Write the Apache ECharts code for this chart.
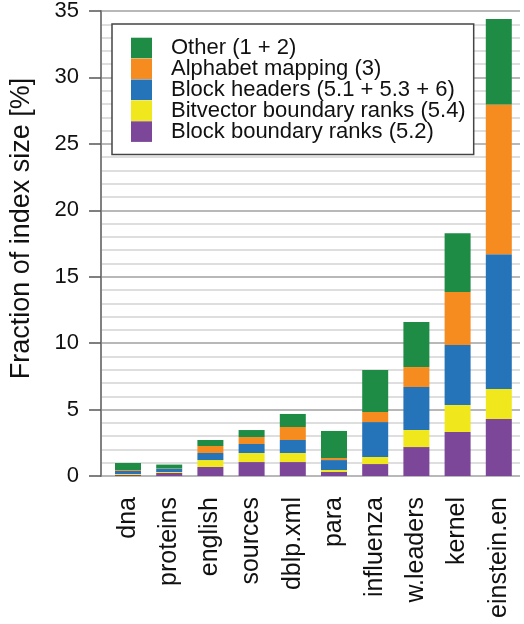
<!DOCTYPE html>
<html>
<head>
<meta charset="utf-8">
<script src="https://cdn.jsdelivr.net/npm/echarts@6/dist/echarts.min.js"></script>
<style>
  html, body { margin: 0; padding: 0; background: #fff; }
  #chart { width: 524px; height: 624px; }
</style>
</head>
<body>
<div id="chart"></div>
<script>
const categories = ['dna', 'proteins', 'english', 'sources', 'dblp.xml', 'para', 'influenza', 'w.leaders', 'kernel', 'einstein.en'];

// stacked from bottom to top
const blockBoundary = [0.08, 0.23, 0.68, 1.05, 1.05, 0.30, 0.90, 2.18, 3.31, 4.29];
const bitvector     = [0.07, 0.07, 0.52, 0.68, 0.68, 0.15, 0.53, 1.28, 2.03, 2.26];
const blockHeaders  = [0.23, 0.23, 0.53, 0.68, 0.98, 0.75, 2.63, 3.24, 4.52, 10.15];
const alphabet      = [0.07, 0.03, 0.53, 0.52, 0.98, 0.15, 0.76, 1.50, 3.99, 11.27];
const other         = [0.53, 0.30, 0.45, 0.53, 0.98, 2.04, 3.16, 3.39, 4.43, 6.42];

const yTicks = [0, 5, 10, 15, 20, 25, 30, 35];

const FONT = "'Liberation Sans', Arial, sans-serif";

const chart = echarts.init(document.getElementById('chart'));

const parts = [
    { name: 'Block boundary ranks (5.2)', data: blockBoundary, color: '#7c4699' },
    { name: 'Bitvector boundary ranks (5.4)', data: bitvector, color: '#f0e81c' },
    { name: 'Block headers (5.1 + 5.3 + 6)', data: blockHeaders, color: '#2574b9' },
    { name: 'Alphabet mapping (3)', data: alphabet, color: '#f68b1f' },
    { name: 'Other (1 + 2)', data: other, color: '#1f8c45' }
];

const series = parts.map(p => ({
    name: p.name,
    type: 'bar',
    stack: 'size',
    xAxisIndex: 1,
    yAxisIndex: 1,
    barWidth: 26,
    data: p.data,
    itemStyle: { color: p.color },
    emphasis: { disabled: true }
}));

const option = {
    animation: false,
    textStyle: { fontFamily: FONT },
    grid: [
        // background grid: y axis + gridlines
        { left: 100, right: 4, top: 11, bottom: 148 },
        // bar grid, shifted a bit right of the axis line
        { left: 107.4, right: 4.6, top: 11, bottom: 148 }
    ],
    legend: {
        data: parts.map(p => p.name).reverse(),
        orient: 'vertical',
        left: 112,
        top: 24,
        padding: [13, 8, 12, 19],
        itemWidth: 21,
        itemHeight: 20.6,
        itemGap: -1.1,
        icon: 'rect',
        backgroundColor: '#fff',
        borderColor: '#444',
        borderWidth: 1.5,
        selectedMode: false,
        textStyle: {
            fontFamily: FONT,
            fontSize: 22,
            color: '#111',
            lineHeight: 20.6,
            padding: [0, 0, 0, 14]
        }
    },
    xAxis: [
        {
            gridIndex: 0,
            type: 'value',
            min: 0,
            max: 1,
            show: false
        },
        {
            gridIndex: 1,
            type: 'category',
            data: categories,
            axisLine: { show: false },
            axisTick: { show: false },
            axisLabel: {
                rotate: 90,
                margin: 21,
                fontSize: 25,
                fontFamily: FONT,
                color: '#111'
            }
        }
    ],
    yAxis: [
        {
            gridIndex: 0,
            type: 'value',
            min: 0,
            max: 35,
            interval: 5,
            name: 'Fraction of index size [%]',
            nameLocation: 'middle',
            nameGap: 66,
            nameTextStyle: { fontSize: 27, fontFamily: FONT, color: '#111', padding: [0, 0, 0, 30] },
            axisLine: { show: true, lineStyle: { color: '#808080', width: 2 } },
            axisTick: { show: true, length: 12, lineStyle: { color: '#555', width: 1.5 } },
            axisLabel: {
                margin: 22,
                fontSize: 22,
                fontFamily: FONT,
                color: '#111',
                formatter: v => (yTicks.includes(v) ? String(v) : '')
            },
            splitLine: { show: true, lineStyle: { color: '#b8b8b8', width: 2 } },
            minorTick: { show: false, splitNumber: 5 },
            minorSplitLine: { show: true, lineStyle: { color: '#d4d4d4', width: 1.5 } }
        },
        {
            gridIndex: 1,
            type: 'value',
            min: 0,
            max: 35,
            show: false
        }
    ],
    series: series
};

chart.setOption(option);
</script>
</body>
</html>
